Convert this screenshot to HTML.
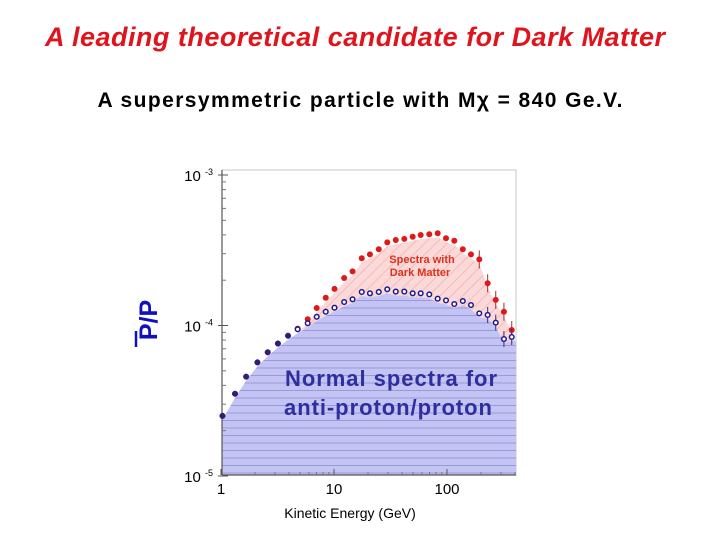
<!DOCTYPE html>
<html><head><meta charset="utf-8">
<style>
body{margin:0;background:#fff;}
#wrap{position:relative;width:720px;height:540px;overflow:hidden;background:#fff;font-family:"Liberation Sans",sans-serif;}
svg text{font-family:"Liberation Sans",sans-serif;}
</style></head>
<body>
<div id="wrap">
<svg id="chart" width="720" height="540" viewBox="0 0 720 540">
<defs>
<pattern id="hlines" width="8" height="7.5" patternUnits="userSpaceOnUse">
<rect width="8" height="7.5" fill="#c4c4f4"/>
<line x1="0" y1="0.5" x2="8" y2="0.5" stroke="#9a9ad8" stroke-width="1"/>
</pattern>
<pattern id="hatch" width="8" height="8" patternUnits="userSpaceOnUse" patternTransform="rotate(45)">
<rect width="8" height="8" fill="#fbd9d9"/>
<line x1="0" y1="0" x2="0" y2="8" stroke="#f0a8a8" stroke-width="1.2"/>
</pattern>
</defs>
<text x="355" y="46" text-anchor="middle" font-size="27" font-weight="bold" font-style="italic" fill="#e0141c" textLength="620">A leading theoretical candidate for Dark Matter</text>
<text x="360" y="107" text-anchor="middle" font-size="21" font-weight="bold" fill="#000" textLength="525">A supersymmetric particle with Mχ = 840 Ge.V.</text>
<g id="plot"></g>
<text x="350" y="518" text-anchor="middle" font-size="14" fill="#000">Kinetic Energy (GeV)</text>
<g transform="translate(157,320) rotate(-90)">
<text x="0" y="0" text-anchor="middle" font-size="25" font-weight="bold" fill="#1010c0">P/P</text>
<line x1="-27" y1="-21" x2="-11" y2="-21" stroke="#1010c0" stroke-width="2.5"/>
</g>
<text x="422" y="263" text-anchor="middle" font-size="11" font-weight="bold" fill="#e0301c">Spectra with</text>
<text x="420" y="276" text-anchor="middle" font-size="11" font-weight="bold" fill="#e0301c">Dark Matter</text>
<text x="285" y="386" font-size="22" font-weight="bold" fill="#2e2e9e" textLength="212">Normal spectra for</text>
<text x="284" y="415" font-size="22" font-weight="bold" fill="#2e2e9e" textLength="208">anti-proton/proton</text>
</svg>
</div>
<script>
const energies=[1.03,1.33,1.67,2.10,2.59,3.19,3.92,4.77,5.85,7.03,8.45,10.1,12.3,14.6,17.6,20.8,24.9,29.6,35.2,41.9,49.7,58.5,69.7,82.7,98,116,138,163,193,229,270,319,374];
const normalRatio=[2.51e-5,3.52e-5,4.57e-5,5.69e-5,6.64e-5,7.59e-5,8.55e-5,9.44e-5,1.035e-4,1.143e-4,1.235e-4,1.313e-4,1.432e-4,1.493e-4,1.671e-4,1.637e-4,1.671e-4,1.741e-4,1.68e-4,1.68e-4,1.637e-4,1.637e-4,1.61e-4,1.507e-4,1.469e-4,1.389e-4,1.455e-4,1.368e-4,1.204e-4,1.175e-4,1.045e-4,8.13e-5,8.39e-5];
const dmStart=7;
const dmRatio=[9.53e-5,1.10e-4,1.306e-4,1.53e-4,1.75e-4,2.07e-4,2.29e-4,2.80e-4,2.97e-4,3.21e-4,3.57e-4,3.70e-4,3.76e-4,3.89e-4,3.99e-4,4.04e-4,4.10e-4,3.80e-4,3.66e-4,3.21e-4,2.97e-4,2.75e-4,1.91e-4,1.48e-4,1.235e-4,9.33e-5];
const xTicks=[1,10,100];
const xTickLabels=["1","10","100"];
const yTicks=[1e-3,1e-4,1e-5];
const yTickExp=["-3","-4","-5"];

const NS="http://www.w3.org/2000/svg";
const X0=222,X1=516,Y0=475,YT=170;
function xs(e){return 221+Math.log10(e)*113;}
function ys(v){return 175+(-3-Math.log10(v))*150.5;}
const g=document.getElementById('plot');
function mk(tag,attrs){const el=document.createElementNS(NS,tag);for(const k in attrs)el.setAttribute(k,attrs[k]);g.appendChild(el);return el;}

const fr=mk('rect',{x:X0,y:YT,width:X1-X0,height:Y0-YT,fill:'#fff',stroke:'#c8c8c8','stroke-width':1});



let pts=[];
energies.forEach((e,i)=>pts.push([xs(e),ys(normalRatio[i])+4]));
let nd=`M${X0},${Y0} L${X0},${pts[0][1]+8} `+pts.map(p=>`L${p[0]},${p[1]}`).join(' ')+` L${X1},${pts[pts.length-1][1]} L${X1},${Y0} Z`;
let dpts=dmRatio.map((v,i)=>[xs(energies[dmStart+i]),ys(v)+4]);
let npart=[];for(let i=energies.length-1;i>=dmStart;i--)npart.push(pts[i]);
let dd=`M${dpts[0][0]},${dpts[0][1]} `+dpts.map(p=>`L${p[0]},${p[1]}`).join(' ')+` L${X1},${dpts[dpts.length-1][1]+8} L${X1},${pts[pts.length-1][1]} `+npart.map(p=>`L${p[0]},${p[1]}`).join(' ')+' Z';
const da=mk('path',{d:dd,fill:'url(#hatch)'});


const na=mk('path',{d:nd,fill:'url(#hlines)'});



const ya=mk('line',{x1:X0,y1:YT,x2:X0,y2:Y0,stroke:'#555','stroke-width':1.2});


const xa=mk('line',{x1:X0,y1:Y0,x2:X1,y2:Y0,stroke:'#555','stroke-width':1.2});


yTicks.forEach((v,i)=>{
  const y=ys(v);
  const t=mk('line',{x1:X0-4,y1:y,x2:X0+6,y2:y,stroke:'#555'});
  
  
  const tx=mk('text',{x:X0-9,y:y+6,'text-anchor':'end','font-size':15,fill:'#000'});
  tx.innerHTML='10 <tspan dy="-6" font-size="9">'+yTickExp[i]+'</tspan>';
  
  
  if(i<yTicks.length-1){for(let m=2;m<10;m++){const my=ys(v/10*m);mk('line',{x1:X0,y1:my,x2:X0+4,y2:my,stroke:'#777'});}}
});
xTicks.forEach((e,i)=>{
  const x=xs(e);
  const t=mk('line',{x1:x,y1:Y0,x2:x,y2:Y0-6,stroke:'#555'});
  
  
  const tx=mk('text',{x:x,y:Y0+19,'text-anchor':'middle','font-size':15,fill:'#000'});
  tx.textContent=xTickLabels[i];
  
  
  for(let m=2;m<10;m++){const mx=xs(e*m);if(mx<X1)mk('line',{x1:mx,y1:Y0,x2:mx,y2:Y0-3,stroke:'#777'});}
});

dmRatio.forEach((v,i)=>{
  const e=energies[dmStart+i];
  if(i>=21){mk('line',{x1:xs(e),y1:ys(v)-9,x2:xs(e),y2:ys(v)+9,stroke:'#a03030'});}
  const c=mk('circle',{cx:xs(e),cy:ys(v),r:3,fill:'#e01818'});
  
  
});
normalRatio.forEach((v,i)=>{
  const e=energies[i];
  if(i>=29){mk('line',{x1:xs(e),y1:ys(v)-8,x2:xs(e),y2:ys(v)+8,stroke:'#303080'});}
  const early=i<dmStart;
  const c=mk('circle',{cx:xs(e),cy:ys(v),r:early?2.8:2.3,fill:early?'#3a1a6a':'#fff',stroke:'#1a1a90','stroke-width':early?0.5:1.5});
  
  
});
</script>
</body></html>
